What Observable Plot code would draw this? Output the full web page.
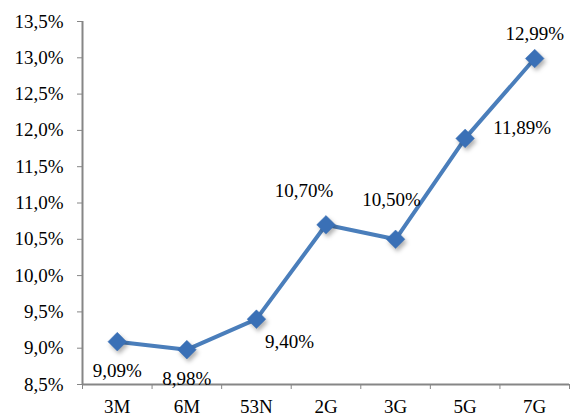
<!DOCTYPE html>
<html>
<head>
<meta charset="utf-8">
<script src="https://cdn.jsdelivr.net/npm/d3@7"></script>
<script src="https://cdn.jsdelivr.net/npm/@observablehq/plot@0.6"></script>
<style>
  html, body { margin: 0; padding: 0; background: #fff; }
  #chart { width: 571px; height: 416px; }
  svg text, svg { font-family: 'Liberation Serif', 'Times New Roman', 'DejaVu Serif', serif !important; }
  svg text { font-size: 19px !important; }
</style>
</head>
<body>
<div id="chart"></div>
<script>
const categories = ["3M", "6M", "53N", "2G", "3G", "5G", "7G"];
const values = [9.09, 8.98, 9.40, 10.70, 10.50, 11.89, 12.99];
const labels = ["9,09%", "8,98%", "9,40%", "10,70%", "10,50%", "11,89%", "12,99%"];
const yTicks = [8.5, 9.0, 9.5, 10.0, 10.5, 11.0, 11.5, 12.0, 12.5, 13.0, 13.5];

// label placement offsets (px), per point
const labelOffsets = [[0, 29], [0, 29], [33, 23], [-22, -34], [-4, -39], [57, -10], [0, -25]];

const data = categories.map((c, i) => ({ cat: c, idx: i + 0.5, value: values[i], label: labels[i] }));
const boundaries = d3.range(categories.length + 1);
const centers = categories.map((c, i) => i + 0.5);

const fmt = v => v.toFixed(1).replace(".", ",") + "%";
const axisColor = "#868686";
const font = "'Liberation Serif', 'Times New Roman', serif";

const plot = Plot.plot({
  width: 571,
  height: 416,
  marginLeft: 82,
  marginRight: 2,
  marginTop: 21,
  marginBottom: 32,
  x: { type: "linear", domain: [0, categories.length] },
  y: { domain: [8.5, 13.5] },
  marks: [
    Plot.axisY({ ticks: yTicks, tickFormat: fmt, tickSize: 5, tickPadding: 14, stroke: axisColor, fill: "#000", label: null, fontSize: 19, fontFamily: font }),
    Plot.axisX({ ticks: boundaries, tickFormat: () => "", tickSize: 5, stroke: axisColor, label: null }),
    Plot.axisX({ ticks: centers, tickFormat: (d) => categories[Math.floor(d)], tickSize: 0, tickPadding: 15, fill: "#000", label: null, fontSize: 19, fontFamily: font }),
    Plot.ruleX([0], { stroke: axisColor, strokeWidth: 2 }),
    Plot.ruleY([8.5], { stroke: axisColor, strokeWidth: 2 }),
    Plot.line(data, { x: "idx", y: "value", stroke: "#4a7ebb", strokeWidth: 4 }),
    Plot.dot(data, { x: "idx", y: "value", symbol: "diamond2", r: 8.4, fill: "#3a70b6", stroke: "#3a70b6", strokeWidth: 0.5 }),
    ...data.map((d, i) => Plot.text([d], { x: "idx", y: "value", text: "label", dx: labelOffsets[i][0], dy: labelOffsets[i][1], fill: "#000", fontSize: 19, fontFamily: font }))
  ]
});

d3.select(plot).selectAll("g[aria-label='dot'] path").style("filter", "drop-shadow(2px 3px 2px rgba(0,0,0,0.3))");
d3.select(plot).selectAll("text").style("font-family", font).style("font-size", "19px");
document.getElementById("chart").appendChild(plot);
</script>
</body>
</html>
